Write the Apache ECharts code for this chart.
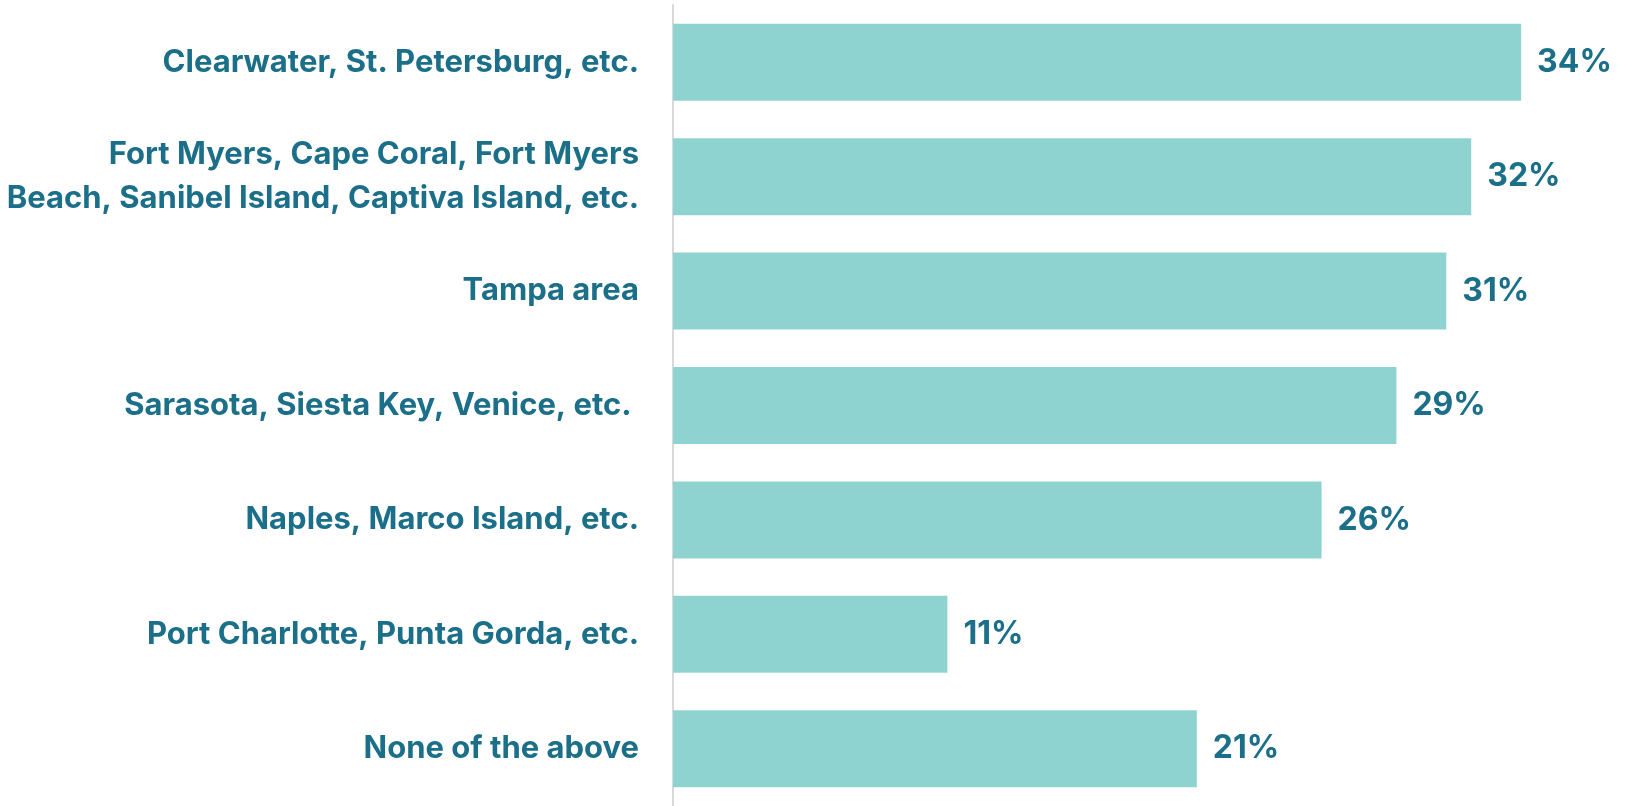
<!DOCTYPE html>
<html>
<head>
<meta charset="utf-8">
<script src="https://cdn.jsdelivr.net/npm/echarts@6/dist/echarts.min.js"></script>
<style>
  html, body { margin: 0; padding: 0; background: #fff; }
  #chart { width: 1636px; height: 806px; }
</style>
</head>
<body>
<div id="chart"></div>
<script>
const regions = [
  'Clearwater, St. Petersburg, etc.',
  'Fort Myers, Cape Coral, Fort Myers\nBeach, Sanibel Island, Captiva Island, etc.',
  'Tampa area',
  'Sarasota, Siesta Key, Venice, etc. ',
  'Naples, Marco Island, etc.',
  'Port Charlotte, Punta Gorda, etc.',
  'None of the above'
]
const shares = [34, 32, 31, 29, 26, 11, 21]

const textColor = '#1b6f89'
const barColor = '#8fd3d1'

const chart = echarts.init(document.getElementById('chart'))
chart.setOption({
  animation: false,
  grid: { left: 673, top: 5, width: 898, height: 804 },
  xAxis: {
    type: 'value',
    min: 0,
    max: 36,
    show: false
  },
  yAxis: {
    type: 'category',
    data: regions,
    inverse: true,
    axisTick: { show: false },
    axisLine: { show: true, lineStyle: { color: '#d9d9d9', width: 2 } },
    axisLabel: {
      margin: 34,
      color: textColor,
      fontFamily: 'Inter',
      fontWeight: 'bold',
      fontSize: 31,
      lineHeight: 44,
      align: 'right'
    }
  },
  series: [{
    type: 'bar',
    data: shares,
    barWidth: 77,
    itemStyle: { color: barColor },
    label: {
      show: true,
      position: 'right',
      distance: 16,
      formatter: '{c}%',
      color: textColor,
      fontFamily: 'Inter',
      fontWeight: 'bold',
      fontSize: 32
    }
  }]
})
</script>
</body>
</html>
